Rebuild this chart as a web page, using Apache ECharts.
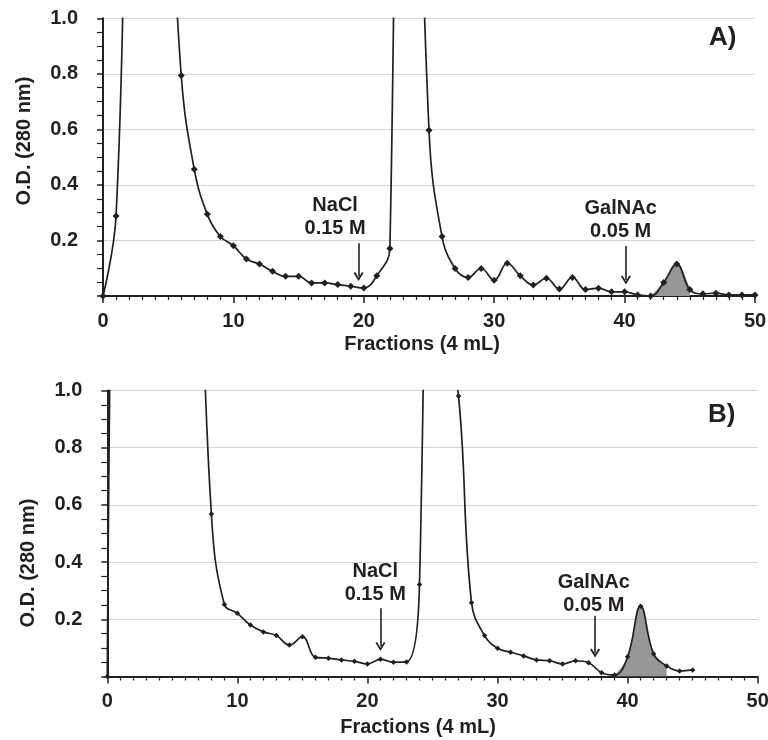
<!DOCTYPE html>
<html>
<head>
<meta charset="utf-8">
<script src="https://cdn.jsdelivr.net/npm/echarts@6/dist/echarts.min.js"></script>
<style>
html,body{margin:0;padding:0;background:#fff;}
#c{width:768px;height:740px;}
</style>
</head>
<body>
<div id="c"></div>
<script>
// ---- Data ----
const fracA = [0,1,2,3,4,5,6,7,8,9,10,11,12,13,14,15,16,17,18,19,20,21,22,23,24,25,26,27,28,29,30,31,32,33,34,35,36,37,38,39,40,41,42,43,44,45,46,47,48,49,50];
const odA = [0,0.288,1.9,2.6,2.4,1.7,0.794,0.456,0.294,0.214,0.181,0.133,0.115,0.089,0.071,0.071,0.047,0.047,0.041,0.035,0.029,0.073,0.171,4.5,2.3,0.597,0.214,0.099,0.067,0.099,0.057,0.118,0.073,0.040,0.064,0.025,0.067,0.023,0.028,0.015,0.015,0.004,0,0.049,0.115,0.023,0.008,0.010,0.004,0.004,0.004];
const shadeA = [42,45];

const fracB = [0,1,2,3,4,5,6,7,8,9,10,11,12,13,14,15,16,17,18,19,20,21,22,23,24,25,26,27,28,29,30,31,32,33,34,35,36,37,38,39,40,41,42,43,44,45];
const odB = [0,3.5,4,4,3.8,3.2,2.5,1.7,0.568,0.252,0.221,0.180,0.156,0.143,0.110,0.139,0.067,0.064,0.058,0.053,0.044,0.060,0.050,0.051,0.322,3.7,1.2,0.981,0.258,0.143,0.099,0.085,0.072,0.058,0.055,0.044,0.055,0.048,0.013,0.005,0.069,0.246,0.079,0.037,0.019,0.023];
const shadeB = [39,43];

const xTicks = [0,10,20,30,40,50];
const yTicks = [0.2,0.4,0.6,0.8,1.0];

// annotations: [label, arrow x, arrow top, arrow end, text x, text y]
const notesA = [["NaCl\n0.15 M",19.6,0.19,0.07,17.8,0.2855],["GalNAc\n0.05 M",40.1,0.18,0.058,39.7,0.273]];
const notesB = [["NaCl\n0.15 M",21.0,0.239,0.105,20.6,0.326],["GalNAc\n0.05 M",37.5,0.212,0.082,37.4,0.288]];

const FONT = '"Liberation Sans", Arial, Helvetica, sans-serif';
const INK = '#231f20';

function pairs(xs, ys){ return xs.map((x,i)=>[x, ys[i]]); }
function sub(xs, ys, r){ return pairs(xs,ys).filter(p=>p[0]>=r[0] && p[0]<=r[1]); }

const chev = 'path://M0,9 L5,0 L10,9 L8.4,10 L5,3.6 L1.6,10 Z';

function xAxisCfg(idx, padRight, gap){
  return {
    gridIndex: idx, type:'value', min:0, max:50, interval:10,
    name:'Fractions (4 mL)', nameLocation:'middle', nameGap: gap,
    nameTextStyle:{fontFamily:FONT, fontWeight:'bold', fontSize:20, color:INK, padding:[0,padRight,0,0]},
    axisLine:{show:true, onZero:false, lineStyle:{color:INK, width:2}},
    axisTick:{show:true, length:7, lineStyle:{color:INK, width:1.5}},
    minorTick:{show:true, splitNumber:10, length:4, lineStyle:{color:INK, width:1.2}},
    axisLabel:{fontFamily:FONT, fontWeight:'bold', fontSize:20, color:INK, margin:15},
    splitLine:{show:false}
  };
}
function yAxisCfg(idx, pad){
  return {
    gridIndex: idx, type:'value', min:0, max:1.0, interval:0.2,
    name:'O.D. (280 nm)', nameLocation:'middle', nameGap:69, nameRotate:90,
    nameTextStyle:{fontFamily:FONT, fontWeight:'bold', fontSize:20, color:INK, padding:pad},
    axisLine:{show:true, lineStyle:{color:INK, width:2}},
    axisTick:{show:true, length:6, lineStyle:{color:INK, width:1.5}},
    minorTick:{show:true, splitNumber:4, length:6, lineStyle:{color:INK, width:1.2}},
    axisLabel:{fontFamily:FONT, fontWeight:'bold', fontSize:20, color:INK, margin:25,
      formatter:v=> (yTicks.some(t=>Math.abs(t-v)<1e-6) ? v.toFixed(1) : '')},
    splitLine:{show:true, lineStyle:{color:'#d4d4d4', width:1}}
  };
}

function arrows(notes){
  return {
    silent:true, symbol:['none', chev], symbolSize:[10,9],
    label:{show:false},
    lineStyle:{color:INK, width:1.6, type:'solid'},
    data: notes.map(n=>[{coord:[n[1],n[2]]},{coord:[n[1],n[3]]}])
  };
}
function texts(notes){
  return {
    silent:true, symbol:'circle', symbolSize:0,
    label:{show:true, position:'inside', fontFamily:FONT, fontWeight:'bold', fontSize:20, lineHeight:23, color:INK,
      formatter:p=>p.name},
    data: notes.map(n=>({name:n[0], coord:[n[4],n[5]]}))
  };
}

const SMOOTH = 0.42;
function mainSeries(idx, xs, ys, notes, symSize){
  return {
    type:'line', xAxisIndex:idx, yAxisIndex:idx, data:pairs(xs,ys),
    smooth:SMOOTH, clip:true,
    symbol:'diamond', symbolSize:symSize, showSymbol:true,
    itemStyle:{color:INK}, lineStyle:{color:INK, width:1.7},
    z:3, animation:false,
    markLine: arrows(notes),
    markPoint: texts(notes)
  };
}
function shadeSeries(idx, xs, ys, r){
  return {
    type:'line', xAxisIndex:idx, yAxisIndex:idx, data:sub(xs,ys,r),
    smooth:SMOOTH, clip:true, showSymbol:false, symbol:'none',
    lineStyle:{width:0}, areaStyle:{color:'#979797', opacity:1},
    z:2, animation:false, silent:true
  };
}

const chart = echarts.init(document.getElementById('c'), null, {renderer:'canvas'});
chart.setOption({
  backgroundColor:'#fff',
  animation:false,
  grid:[
    {left:103, right:13, top:18.3, bottom:444, outerBoundsMode:'none', containLabel:false},
    {left:107.3, right:10.3, top:390.5, bottom:63.5, outerBoundsMode:'none', containLabel:false}
  ],
  xAxis:[xAxisCfg(0,14,38), xAxisCfg(1,29,41)],
  yAxis:[yAxisCfg(0,[0,0,0,32]), yAxisCfg(1,[0,59,0,0])],
  graphic:[
    {type:'text', left:709, top:25, style:{text:'A)', fontFamily:FONT, fontWeight:'bold', fontSize:26, fill:INK}},
    {type:'text', left:708, top:402, style:{text:'B)', fontFamily:FONT, fontWeight:'bold', fontSize:26, fill:INK}}
  ],
  series:[
    shadeSeries(0, fracA, odA, shadeA),
    mainSeries(0, fracA, odA, notesA, 7),
    shadeSeries(1, fracB, odB, shadeB),
    mainSeries(1, fracB, odB, notesB, 5.5)
  ]
});
</script>
</body>
</html>
